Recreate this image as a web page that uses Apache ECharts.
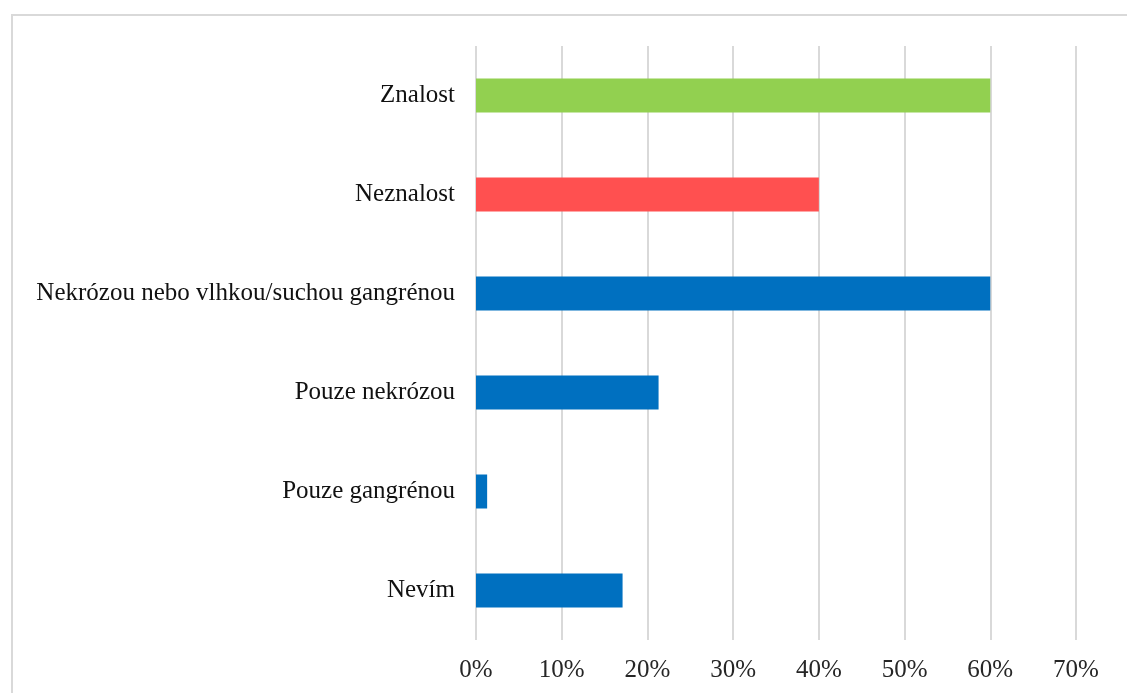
<!DOCTYPE html>
<html>
<head>
<meta charset="utf-8">
<script src="https://cdn.jsdelivr.net/npm/echarts@6/dist/echarts.min.js"></script>
<style>
  html, body { margin: 0; padding: 0; background: #fff; }
  #chart { width: 1127px; height: 693px; }
</style>
</head>
<body>
<div id="chart"></div>
<script>
// Answer categories, listed top to bottom
const categories = [
  'Znalost',
  'Neznalost',
  'Nekrózou nebo vlhkou/suchou gangrénou',
  'Pouze nekrózou',
  'Pouze gangrénou',
  'Nevím'
];
// Share of respondents (%)
const shares = [60, 40, 60, 21.3, 1.3, 17.1];
// Bar colours per category
const barColors = ['#92D050', '#FF5050', '#0070C0', '#0070C0', '#0070C0', '#0070C0'];
// Value axis ticks
const axisMin = 0, axisMax = 70, axisStep = 10;

const chart = echarts.init(document.getElementById('chart'), null, { renderer: 'canvas' });
const font = '"Liberation Serif", "Times New Roman", serif';

chart.setOption({
  backgroundColor: '#ffffff',
  animation: false,
  graphic: [{
    type: 'rect',
    shape: { x: 12, y: 15, width: 1140, height: 700 },
    style: { fill: 'none', stroke: '#d9d9d9', lineWidth: 2 },
    silent: true
  }],
  grid: { left: 476, right: 51, top: 46, bottom: 53, containLabel: false },
  xAxis: {
    type: 'value',
    min: axisMin, max: axisMax, interval: axisStep,
    axisLine: { show: false },
    axisTick: { show: false },
    splitLine: { show: true, lineStyle: { color: '#d9d9d9', width: 2 } },
    axisLabel: {
      formatter: v => v + '%',
      color: '#262626',
      fontFamily: font,
      fontSize: 25,
      margin: 18
    }
  },
  yAxis: {
    type: 'category',
    data: categories,
    inverse: true,
    axisLine: { show: false },
    axisTick: { show: false },
    axisLabel: {
      color: '#111111',
      fontFamily: font,
      fontSize: 25,
      margin: 21
    }
  },
  series: [{
    type: 'bar',
    data: shares.map((v, i) => ({ value: v, itemStyle: { color: barColors[i] } })),
    barWidth: 34
  }]
});
</script>
</body>
</html>
